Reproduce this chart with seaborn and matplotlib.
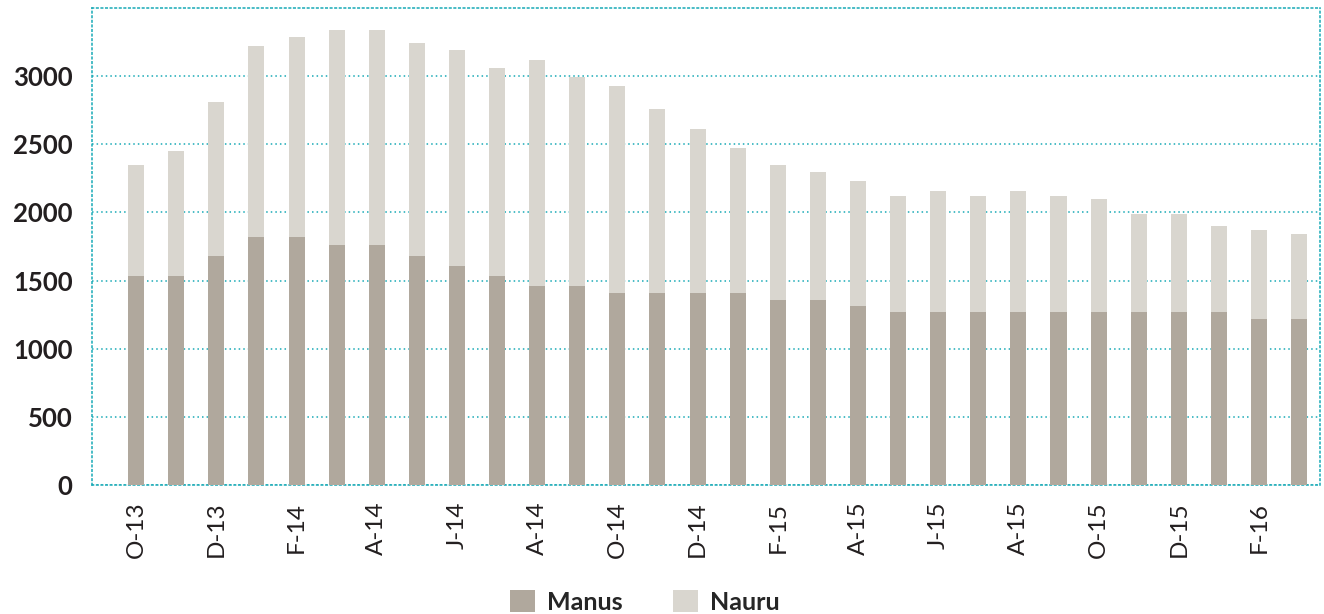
import numpy as np
import pandas as pd
import matplotlib
matplotlib.use("Agg")
import matplotlib.pyplot as plt
from matplotlib.patches import Patch
import seaborn as sns

months = ["O-13", "N-13", "D-13", "J-14", "F-14", "M-14", "A-14", "M-14", "J-14", "J-14",
          "A-14", "S-14", "O-14", "N-14", "D-14", "J-15", "F-15", "M-15", "A-15", "M-15",
          "J-15", "J-15", "A-15", "S-15", "O-15", "N-15", "D-15", "J-16", "F-16", "M-16"]
manus = [1530, 1530, 1680, 1820, 1820, 1760, 1760, 1680, 1610, 1530,
         1460, 1460, 1410, 1410, 1410, 1410, 1360, 1360, 1315, 1270,
         1270, 1270, 1270, 1270, 1270, 1270, 1270, 1270, 1220, 1220]
nauru = [820, 920, 1130, 1400, 1470, 1575, 1575, 1560, 1585, 1530,
         1660, 1535, 1520, 1350, 1205, 1065, 990, 940, 915, 850,
         890, 850, 890, 850, 830, 720, 720, 630, 650, 620]
series_names = ["Manus", "Nauru"]
yticks = [0, 500, 1000, 1500, 2000, 2500, 3000]

c_manus = "#b0a89d"
c_nauru = "#d9d6cf"
grid_c = "#19aab6"

sns.set_theme(style="white")
plt.rcParams["font.family"] = ["Lato", "DejaVu Sans"]

df = pd.DataFrame({"pos": np.arange(len(months)),
                   "manus": manus, "nauru": nauru})
df["total"] = df["manus"] + df["nauru"]

fig = plt.figure(figsize=(13.24, 6.14), dpi=100)
ax = fig.add_axes([92 / 1324, 1 - 485 / 614, (1320 - 92) / 1324, (485 - 8) / 614])

sns.barplot(data=df, x="pos", y="total", color=c_nauru, saturation=1, width=0.4,
            ax=ax, zorder=3, linewidth=0)
sns.barplot(data=df, x="pos", y="manus", color=c_manus, saturation=1, width=0.4,
            ax=ax, zorder=3, linewidth=0)

ax.set_ylim(0, 3500)
ax.set_xlim(-1.1, len(months) - 1 + 0.52)
ax.set_yticks(yticks)
ax.set_yticklabels([str(v) for v in yticks], fontsize=18.5, fontweight="bold", color="#231f20")
ax.set_xticks(range(0, len(months), 2))
ax.set_xticklabels(months[::2], rotation=90, fontsize=17.5, fontweight="normal", color="#231f20")
ax.tick_params(axis="y", length=0, pad=14)
ax.tick_params(axis="x", length=0, pad=12)
ax.set_xlabel("")
ax.set_ylabel("")

ax.yaxis.grid(True, color=grid_c, linestyle=(0, (1, 2)), linewidth=1.1, zorder=4)
ax.set_axisbelow(False)
for s in ax.spines.values():
    s.set_visible(True)
    s.set_color(grid_c)
    s.set_linestyle((0, (1, 2)))
    s.set_linewidth(1.1)

handles = [Patch(facecolor=c_manus, edgecolor="none"), Patch(facecolor=c_nauru, edgecolor="none")]
fig.legend(handles, series_names, loc="lower center", bbox_to_anchor=(0.487, -0.036), ncol=2,
           frameon=False, prop={"weight": "bold", "size": 18}, handlelength=1.0,
           handleheight=1.0, handletextpad=0.5, columnspacing=2.0)

fig.savefig("out.png", dpi=100)
